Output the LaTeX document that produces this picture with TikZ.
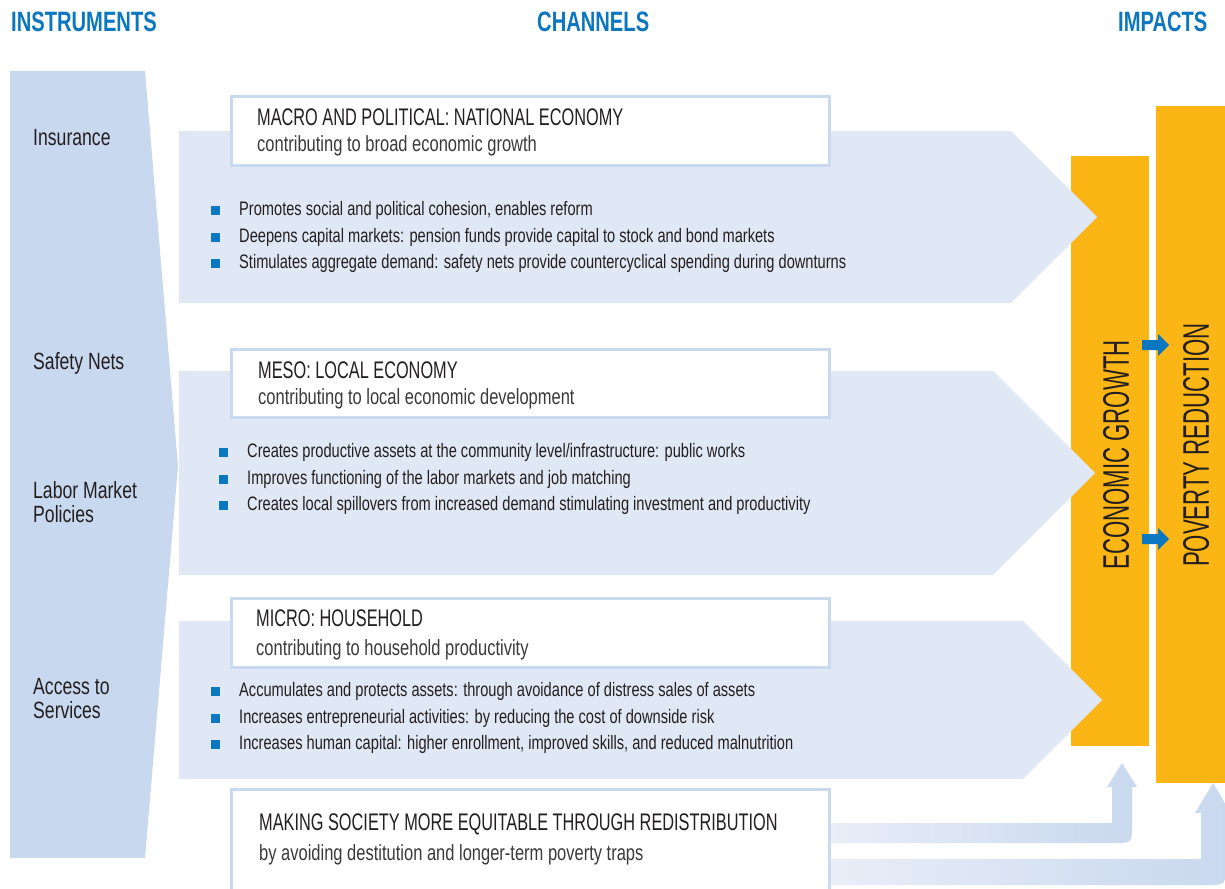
\documentclass[tikz,border=0pt]{standalone}
\usepackage{fontspec}
\setmainfont[FakeStretch=0.75]{Liberation Sans}
\newfontfamily\titlefont[FakeStretch=0.68]{Liberation Sans}
\newfontfamily\hdrfont[FakeStretch=0.72]{Liberation Sans}
\newfontfamily\bigfont[FakeStretch=0.6]{Liberation Sans}
\definecolor{hblue}{HTML}{0B77C0}
\definecolor{txt}{HTML}{231F20}
\definecolor{subtxt}{HTML}{3A3A3A}
\definecolor{panel}{HTML}{C8D8EE}
\definecolor{chan}{HTML}{E1E8F5}
\definecolor{impact}{HTML}{FBB615}
\definecolor{boxline}{HTML}{C9D9EF}
\definecolor{fade}{HTML}{E9EEF8}
\tikzset{
  hdr/.style={anchor=base west, inner sep=0pt, font=\hdrfont\bfseries\fontsize{28}{30}\selectfont, text=hblue},
  inst/.style={anchor=base west, inner sep=0pt, font=\fontsize{23.5}{24}\selectfont, text=txt},
  wbox/.style={draw=boxline, line width=3pt, fill=white, anchor=north west, outer sep=0pt, inner sep=0pt, minimum width=598pt},
  ttl/.style={anchor=base west, inner sep=0pt, font=\titlefont\fontsize{24}{26}\selectfont, text=txt},
  sub/.style={anchor=base west, inner sep=0pt, font=\fontsize{22}{24}\selectfont, text=subtxt},
  btxt/.style={anchor=base west, inner sep=0pt, font=\fontsize{19.5}{21}\selectfont, text=txt},
  bul/.style={fill=hblue, inner sep=0pt, minimum size=9pt, outer sep=0pt},
  rot/.style={rotate=90, inner sep=0pt, font=\bigfont\fontsize{37}{37}\selectfont, text=txt},
  bar/.style={fill=impact, inner sep=0pt, outer sep=0pt, anchor=north west},
  chanarrow/.style={fill=chan},
  smallarrow/.style={fill=hblue},
  redisarrow/.style={left color=fade, right color=panel}
}
\begin{document}
\begin{tikzpicture}[x=1pt,y=-1pt]
\useasboundingbox (0,0) rectangle (1225,888);
\clip (0,0) rectangle (1225,888);
\fill[white] (0,0) rectangle (1225,888);

% headers
\node[hdr] (hinst) at (11,32) {INSTRUMENTS};
\node[hdr] (hchan) at (537,32) {CHANNELS};
\node[hdr] (himp) at (1118,32) {IMPACTS};

% instruments panel
\fill[panel] (10,71) -- (145,71) -- (178,466) -- (145,858) -- (10,858) -- cycle;
\node[inst] (ins) at (33,145) {Insurance};
\node[inst] (sn) at (33,369) {Safety Nets};
\node[inst] (lm1) at (33,498) {Labor Market};
\node[inst] (lm2) at (33,522) {Policies};
\node[inst] (as1) at (33,694) {Access to};
\node[inst] (as2) at (33,718) {Services};

% impact bars
\node[bar, minimum width=78pt, minimum height=590pt] (growth) at (1071,156) {};
\node[bar, minimum width=74pt, minimum height=677pt] (poverty) at (1156,106) {};

% channel arrows
\fill[chanarrow] (179,131) -- (1011,131) -- (1097,217) -- (1011,303) -- (179,303) -- cycle;
\fill[chanarrow] (179,371) -- (993,371) -- (1095,473) -- (993,575) -- (179,575) -- cycle;
\fill[chanarrow] (179,621) -- (1023,621) -- (1102,700) -- (1023,779) -- (179,779) -- cycle;

% redistribution arrows
\shade[redisarrow] (829,823) -- (1112,823) -- (1112,787) -- (1107,787) -- (1122,763) -- (1137,787) -- (1132,787) -- (1132,825) .. controls (1132,843) .. (1114,843) -- (829,843) -- cycle;
\shade[redisarrow] (829,859) -- (1201,859) -- (1201,813) -- (1195,813) -- (1213,783) -- (1231,813) -- (1226,813) -- (1226,865) .. controls (1226,885) .. (1206,885) -- (829,885) -- cycle;

% boxes
\node[wbox, minimum height=69pt] (macro) at (231,96.5) {};
\node[wbox, minimum height=68pt] (meso) at (231,349) {};
\node[wbox, minimum height=69pt] (micro) at (231,598) {};
\node[wbox, minimum height=120pt] (redis) at (231,789) {};

\node[ttl] (macrot) at (257,125.7) {MACRO AND POLITICAL: NATIONAL ECONOMY};
\node[sub] (macros) at (257,151.7) {contributing to broad economic growth};
\node[ttl] (mesot) at (258,378.7) {MESO: LOCAL ECONOMY};
\node[sub] (mesos) at (258,404.7) {contributing to local economic development};
\node[ttl] (microt) at (256,626.7) {MICRO: HOUSEHOLD};
\node[sub] (micros) at (256,655.7) {contributing to household productivity};
\node[ttl] (redist) at (259,830.7) {MAKING SOCIETY MORE EQUITABLE THROUGH REDISTRIBUTION};
\node[sub] (rediss) at (259,860.7) {by avoiding destitution and longer-term poverty traps};

% bullets macro
\node[bul] (b1) at (215.5,210.5) {};
\node[btxt] (t1) at (239,215) {Promotes social and political cohesion, enables reform};
\node[bul] (b2) at (215.5,237.5) {};
\node[btxt] (t2) at (239,242) {Deepens capital markets: pension funds provide capital to stock and bond markets};
\node[bul] (b3) at (215.5,263.5) {};
\node[btxt] (t3) at (239,268) {Stimulates aggregate demand: safety nets provide countercyclical spending during downturns};
% bullets meso
\node[bul] (b4) at (223.5,452.5) {};
\node[btxt] (t4) at (247,457) {Creates productive assets at the community level/infrastructure: public works};
\node[bul] (b5) at (223.5,479.5) {};
\node[btxt] (t5) at (247,484) {Improves functioning of the labor markets and job matching};
\node[bul] (b6) at (223.5,505.5) {};
\node[btxt] (t6) at (247,510) {Creates local spillovers from increased demand stimulating investment and productivity};
% bullets micro
\node[bul] (b7) at (215.5,691.5) {};
\node[btxt] (t7) at (239,696) {Accumulates and protects assets: through avoidance of distress sales of assets};
\node[bul] (b8) at (215.5,718.5) {};
\node[btxt] (t8) at (239,723) {Increases entrepreneurial activities: by reducing the cost of downside risk};
\node[bul] (b9) at (215.5,744.5) {};
\node[btxt] (t9) at (239,749) {Increases human capital: higher enrollment, improved skills, and reduced malnutrition};

% small arrows between bars
\fill[smallarrow] (1142,340) -- (1158,340) -- (1158,334) -- (1169,345) -- (1158,356) -- (1158,350) -- (1142,350) -- cycle;
\fill[smallarrow] (1142,534) -- (1158,534) -- (1158,528) -- (1169,539) -- (1158,550) -- (1158,544) -- (1142,544) -- cycle;

% rotated labels
\node[rot] (egt) at (1116,455) {ECONOMIC GROWTH};
\node[rot] (prt) at (1196,445) {POVERTY REDUCTION};
\end{tikzpicture}
\end{document}
